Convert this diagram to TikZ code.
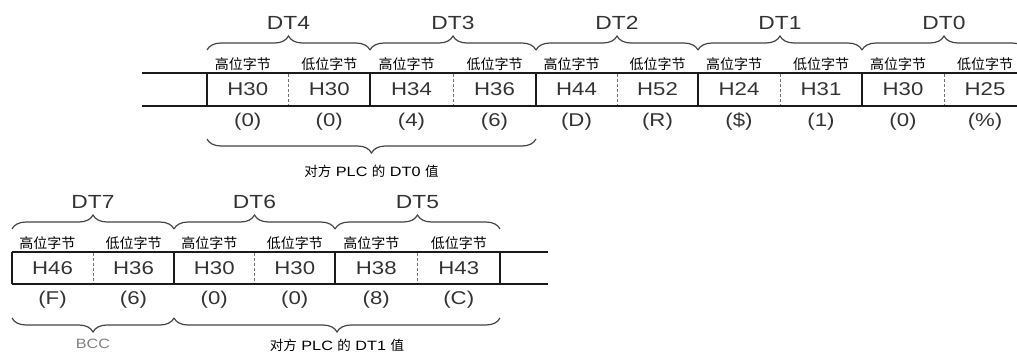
\documentclass[tikz,border=0pt]{standalone}
\usepackage{fontspec}
\setmainfont[FakeStretch=1.2]{Liberation Sans}
\newfontfamily\cjk{Noto Sans CJK SC}
\usetikzlibrary{decorations.pathreplacing}
\definecolor{ink}{HTML}{1A1A1A}
\definecolor{txt}{HTML}{333333}
\definecolor{brc}{HTML}{444444}
\begin{document}
\begin{tikzpicture}[x=1pt,y=-1pt,
  rowline/.style={line width=2pt,ink},
  sep/.style={line width=1pt,black!55,dash pattern=on 2.5pt off 2.5pt},
  val/.style={font=\fontsize{18.5}{18.5}\selectfont,text=txt,inner sep=0pt},
  hdr/.style={font=\cjk\fontsize{14}{14}\selectfont,text=black,inner sep=0pt},
  dtl/.style={font=\fontsize{19}{19}\selectfont,text=txt,inner sep=0pt},
  brace/.style={decorate,decoration={brace,amplitude=14pt},line width=1.2pt,brc},
  note/.style={font=\fontsize{13.5}{13.5}\selectfont,text=black,inner sep=0pt},
]
\useasboundingbox (0,0) rectangle (1017,354);

% ---------- top row ----------
\draw[rowline] (142,72.5) -- (1017,72.5);
\draw[rowline] (142,106) -- (1017,106);
\foreach \l/\r/\n/\a/\b/\c/\d in {207/370/DT4/H30/H30/0/0, 370/536/DT3/H34/H36/4/6, 536/698/DT2/H44/H52/D/R, 698/862/DT1/H24/H31/\$/1, 862/1026/DT0/H30/H25/0/\%}{
  \pgfmathsetmacro\m{(\l+\r)/2}
  \draw[rowline] (\l,72.5) -- (\l,106);
  \draw[sep] (\m,74) -- (\m,104.5);
  \node[val] (\n-a) at ({(\l+\m)/2},89) {\a};
  \node[val] (\n-b) at ({(\m+\r)/2},89) {\b};
  \node[val] (\n-c) at ({(\l+\m)/2},122) {(\c)};
  \node[val] (\n-d) at ({(\m+\r)/2},122) {(\d)};
  \node[hdr] (\n-hi) at ({(\l+\m)/2-5},64) {高位字节};
  \node[hdr] (\n-lo) at ({(\m+\r)/2},64) {低位字节};
  \draw[brace] (\l,50) -- (\r,50);
  \node[dtl] (\n-t) at (\m,23) {\n};
}
\draw[brace] (536,139) -- (207,139);
\node[note] (dt0val) at (371.5,171) {{\cjk 对方} PLC {\cjk 的} DT0 {\cjk 值}};

% ---------- bottom row ----------
\draw[rowline] (12,251.5) -- (548,251.5);
\draw[rowline] (12,284) -- (548,284);
\draw[rowline] (500,251.5) -- (500,284);
\foreach \l/\r/\n/\a/\b/\c/\d in {12/174/DT7/H46/H36/F/6, 174/335/DT6/H30/H30/0/0, 335/500/DT5/H38/H43/8/C}{
  \pgfmathsetmacro\m{(\l+\r)/2}
  \draw[rowline] (\l,251.5) -- (\l,284);
  \draw[sep] (\m,253) -- (\m,282.5);
  \node[val] (\n-a) at ({(\l+\m)/2},268) {\a};
  \node[val] (\n-b) at ({(\m+\r)/2},268) {\b};
  \node[val] (\n-c) at ({(\l+\m)/2},300) {(\c)};
  \node[val] (\n-d) at ({(\m+\r)/2},300) {(\d)};
  \node[hdr] (\n-hi) at ({(\l+\m)/2-5},243) {高位字节};
  \node[hdr] (\n-lo) at ({(\m+\r)/2},243) {低位字节};
  \draw[brace] (\l,229) -- (\r,229);
  \node[dtl] (\n-t) at (\m,202) {\n};
}
\draw[brace] (174,318) -- (12,318);
\draw[brace] (500,318) -- (174,318);
\node[note,text=gray] (bcc) at (93,344) {BCC};
\node[note] (dt1val) at (337,345) {{\cjk 对方} PLC {\cjk 的} DT1 {\cjk 值}};
\end{tikzpicture}
\end{document}
